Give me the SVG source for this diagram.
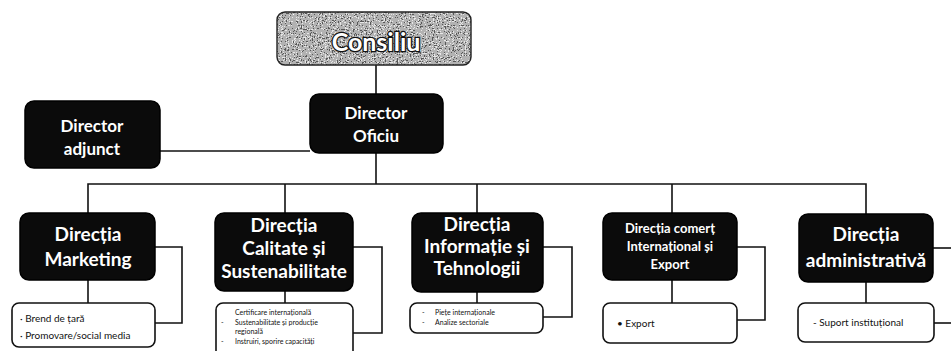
<svg xmlns="http://www.w3.org/2000/svg" width="951" height="351" viewBox="0 0 951 351">
<style>
.box{fill:#0b0b0b;stroke:#000;stroke-width:1.5}
.sub{fill:#fff;stroke:#111;stroke-width:1.6}
.t{fill:#fff;font-family:Lato,"Liberation Sans",sans-serif;font-weight:bold;text-anchor:middle}
.s{fill:#111;font-family:Lato,"Liberation Sans",sans-serif}
.c{fill:none;stroke:#111;stroke-width:1.6}
</style>
<defs>
<filter id="grain" x="0" y="0" width="100%" height="100%">
<feTurbulence type="fractalNoise" baseFrequency="0.75" numOctaves="2" seed="3" result="n"/>
<feColorMatrix in="n" type="saturate" values="0" result="g"/>
<feComponentTransfer in="g" result="d">
<feFuncR type="discrete" tableValues="0 0.1 0.45 0.8 1"/>
<feFuncG type="discrete" tableValues="0 0.1 0.45 0.8 1"/>
<feFuncB type="discrete" tableValues="0 0.1 0.45 0.8 1"/>
<feFuncA type="linear" slope="0" intercept="1"/>
</feComponentTransfer>
<feComposite in="d" in2="SourceGraphic" operator="in"/>
</filter>
</defs>
<rect width="951" height="351" fill="#fff"/>
<g id="connectors">
<line class="c" x1="376" y1="64" x2="376" y2="94"/>
<line class="c" x1="160" y1="151" x2="310" y2="151"/>
<line class="c" x1="376" y1="153" x2="376" y2="184"/>
<polyline class="c" points="88,213 88,184 866,184 866,214"/>
<line class="c" x1="285" y1="184" x2="285" y2="213"/>
<line class="c" x1="477" y1="184" x2="477" y2="213"/>
<line class="c" x1="672" y1="184" x2="672" y2="213"/>
<line class="c" x1="88" y1="280" x2="88" y2="303"/>
<line class="c" x1="285" y1="291" x2="285" y2="303"/>
<line class="c" x1="477" y1="292" x2="477" y2="303"/>
<line class="c" x1="672" y1="280" x2="672" y2="303"/>
<line class="c" x1="866" y1="282" x2="866" y2="303"/>
<polyline class="c" points="155,247 182,247 182,323 155,323"/>
<polyline class="c" points="353,247 382,247 382,333 353,333"/>
<polyline class="c" points="543,247 572,247 572,317 543,317"/>
<polyline class="c" points="737,247 765,247 765,320 737,320"/>
<polyline class="c" points="933,248 960,248"/>
<polyline class="c" points="934,323 960,323"/>
</g>
<g id="consiliu">
<rect x="277" y="12" width="194" height="53" rx="8" fill="#888" filter="url(#grain)"/>
<rect x="277" y="12" width="194" height="53" rx="8" fill="none" stroke="#222" stroke-width="1.4"/>
<text class="t" x="376" y="51" font-size="25" stroke="#111" stroke-width="2.5" paint-order="stroke">Consiliu</text>
</g>
<g id="director-adjunct">
<rect class="box" x="25" y="101" width="135" height="67" rx="9"/>
<text class="t" x="92" y="132" font-size="17">Director</text>
<text class="t" x="92" y="155" font-size="17">adjunct</text>
</g>
<g id="director-oficiu">
<rect class="box" x="310" y="94" width="133" height="59" rx="9"/>
<text class="t" x="376" y="119" font-size="17">Director</text>
<text class="t" x="376" y="142" font-size="17">Oficiu</text>
</g>
<g id="directia-marketing">
<rect class="box" x="20" y="213" width="135" height="67" rx="9"/>
<text class="t" x="88" y="241" font-size="19">Direcția</text>
<text class="t" x="88" y="266" font-size="19">Marketing</text>
</g>
<g id="marketing-list">
<rect class="sub" x="12" y="303" width="143" height="44" rx="7"/>
<text class="s" x="20" y="322" font-size="10">· Brend de țară</text>
<text class="s" x="20" y="339" font-size="10">· Promovare/social media</text>
</g>
<g id="directia-calitate">
<rect class="box" x="215" y="213" width="138" height="78" rx="9"/>
<text class="t" x="284" y="232" font-size="19">Direcția</text>
<text class="t" x="284" y="255" font-size="19">Calitate și</text>
<text class="t" x="284" y="278" font-size="19">Sustenabilitate</text>
</g>
<g id="calitate-list">
<rect class="sub" x="216" y="303" width="137" height="60" rx="7"/>
<text class="s" x="235" y="315" font-size="7">Certificare internațională</text>
<text class="s" x="221" y="325" font-size="7">-</text>
<text class="s" x="235" y="325" font-size="7">Sustenabilitate și producție</text>
<text class="s" x="235" y="334" font-size="7">regională</text>
<text class="s" x="221" y="344" font-size="7">-</text>
<text class="s" x="235" y="344" font-size="7">Instruiri, sporire capacități</text>
</g>
<g id="directia-informatie">
<rect class="box" x="412" y="213" width="131" height="79" rx="9"/>
<text class="t" x="477" y="231" font-size="19">Direcția</text>
<text class="t" x="477" y="253" font-size="19">Informație și</text>
<text class="t" x="477" y="275" font-size="19">Tehnologii</text>
</g>
<g id="informatie-list">
<rect class="sub" x="410" y="303" width="133" height="30" rx="7"/>
<text class="s" x="422" y="315" font-size="7">-</text>
<text class="s" x="435" y="315" font-size="7">Piețe internaționale</text>
<text class="s" x="422" y="325" font-size="7">-</text>
<text class="s" x="435" y="325" font-size="7">Analize sectoriale</text>
</g>
<g id="directia-comert">
<rect class="box" x="603" y="213" width="134" height="67" rx="9"/>
<text class="t" x="670" y="233" font-size="13">Direcția comerț</text>
<text class="t" x="670" y="251" font-size="13">Internațional și</text>
<text class="t" x="670" y="269" font-size="13">Export</text>
</g>
<g id="comert-list">
<rect class="sub" x="603" y="303" width="134" height="40" rx="7"/>
<text class="s" x="617" y="327" font-size="10">• Export</text>
</g>
<g id="directia-administrativa">
<rect class="box" x="799" y="214" width="134" height="68" rx="9"/>
<text class="t" x="866" y="241" font-size="19">Direcția</text>
<text class="t" x="866" y="267" font-size="19">administrativă</text>
</g>
<g id="administrativa-list">
<rect class="sub" x="798" y="303" width="136" height="39" rx="7"/>
<text class="s" x="813" y="326" font-size="10">- Suport instituțional</text>
</g>
</svg>
